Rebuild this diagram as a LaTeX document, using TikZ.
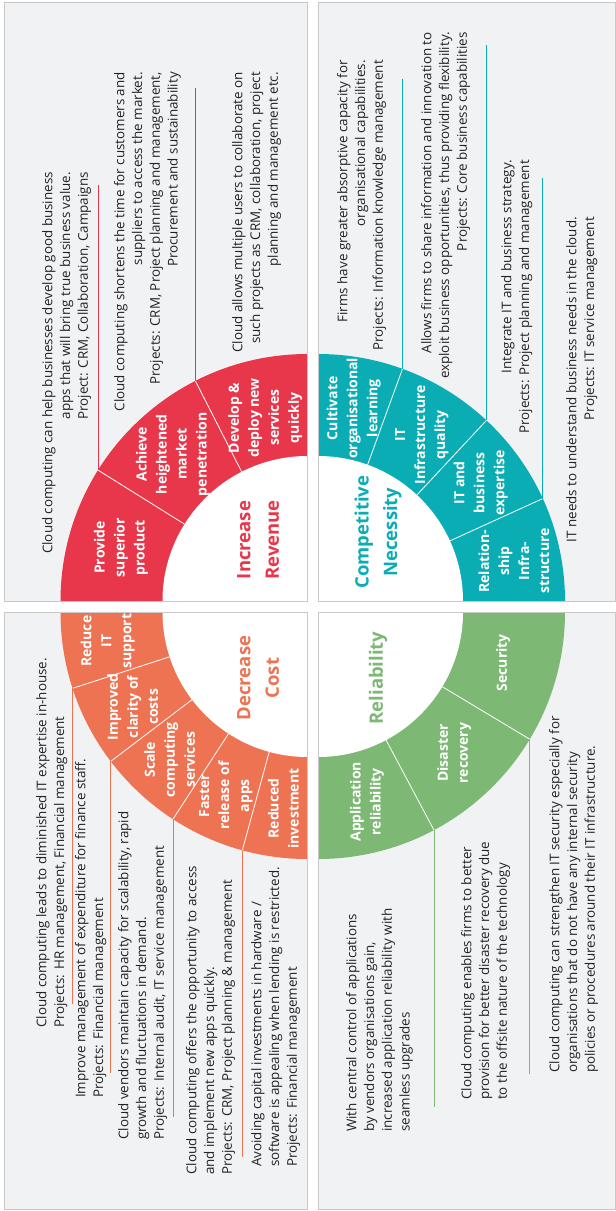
\documentclass[tikz,border=0pt]{standalone}
\usepackage{fontspec}
\setmainfont{Open Sans}
\usetikzlibrary{calc}
\definecolor{cred}{HTML}{E8374A}
\definecolor{corange}{HTML}{ED7352}
\definecolor{cteal}{HTML}{0BADB5}
\definecolor{cgreen}{HTML}{7DB874}
\definecolor{panelbg}{HTML}{F1F2F4}
\definecolor{panelbd}{HTML}{C8C8C8}
\definecolor{txt}{HTML}{222222}
\begin{document}
\begin{tikzpicture}[x=1pt,y=1pt,
  body/.style={rotate=90, inner sep=0pt, text=txt, font=\fontsize{13.4}{17.7}\selectfont},
  bodyr/.style={body, align=right, anchor=north east},
  bodyl/.style={body, align=left, anchor=north west},
  seg/.style={rotate=90, inner sep=0pt, text=white, align=center, font=\bfseries\fontsize{14}{20}\selectfont},
  head/.style={rotate=90, inner sep=0pt, align=center, font=\bfseries\fontsize{18.5}{28.5}\selectfont},
  panelfill/.style={fill=panelbg},
  panelline/.style={draw=panelbd, line width=1pt},
  divider/.style={draw=white, line width=0.8pt},
  sepline/.style={line width=0.9pt},
]
\useasboundingbox (0,0) rectangle (616,-1211);
\fill[white] (0,0) rectangle (616,-1211);

% centres
\coordinate (TLc) at (307.5,-601);
\coordinate (BLc) at (307.5,-612);
\coordinate (TRc) at (318,-601);
\coordinate (BRc) at (318,-612);

% panels
\path[panelfill] (4,-2) rectangle (307.5,-601);
\path[panelfill] (4,-612) rectangle (307.5,-1209);
\path[panelfill] (318,-2) rectangle (615,-601);
\path[panelfill] (318,-612) rectangle (615,-1209);

%================ TOP LEFT : Increase Revenue
\begin{scope}
\clip (4,-2) rectangle (307.5,-601);
\fill[cred] (TLc) -- ++(180:247) arc[start angle=180,end angle=90,radius=247] -- cycle;
\fill[white] (TLc) -- ++(180:145) arc[start angle=180,end angle=90,radius=145] -- cycle;
\draw[divider] ($(TLc)+(148:145)$) -- ($(TLc)+(148:247)$);
\draw[divider] ($(TLc)+(117:145)$) -- ($(TLc)+(117:247)$);
\end{scope}
\coordinate (tl1) at ($(TLc)+(148:247)$);
\coordinate (tl2) at ($(TLc)+(117:247)$);
\coordinate (tl3) at ($(TLc)+(90:247)$);
\coordinate (tl1e) at (0,-185);
\coordinate (tl2e) at (0,-88);
\draw[sepline,cred] (tl1) -- (tl1 |- tl1e);
\draw[sepline,cred] (tl2) -- (tl2 |- tl2e);
\draw[sepline,cred] (tl3) -- (tl3 |- tl2e);

\node[bodyr] (trev1) at (42,-172) {Cloud computing can help businesses develop good business\\apps that will bring true business value.\\Project: CRM, Collaboration, Campaigns};
\node[bodyr] (trev2) at (114,-72) {Cloud computing shortens the time for customers and\\suppliers to access the market.\\Projects: CRM, Project planning and management,\\Procurement and sustainability};
\node[bodyr] (trev3) at (232,-72) {Cloud allows multiple users to collaborate on\\such projects as CRM, collaboration, project\\planning and management etc.};

\node[seg] (srev1) at ($(TLc)+(164:194)$) {Provide\\superior\\product};
\node[seg] (srev2) at ($(TLc)+(132.5:199)$) {Achieve\\heightened\\market\\penetration};
\node[seg] (srev3) at ($(TLc)+(103:188)$) {Develop \&\\deploy new\\services\\quickly};
\node[head,text=cred] (hrev) at (258,-540) {Increase\\Revenue};

%================ BOTTOM LEFT : Decrease Cost
\begin{scope}
\clip (4,-612) rectangle (307.5,-1209);
\fill[corange] (BLc) -- ++(180:247) arc[start angle=180,end angle=270,radius=247] -- cycle;
\fill[white] (BLc) -- ++(180:145) arc[start angle=180,end angle=270,radius=145] -- cycle;
\foreach \a in {198,217.2,237,254.7}
  \draw[divider] ($(BLc)+(\a:145)$) -- ($(BLc)+(\a:247)$);
\node[seg] (scost1) at ($(BLc)+(188.3:202)$) {Reduce\\IT\\support};
\end{scope}
\coordinate (bl1) at ($(BLc)+(198:247)$);
\coordinate (bl2) at ($(BLc)+(217.2:247)$);
\coordinate (bl3) at ($(BLc)+(237:247)$);
\coordinate (bl4) at ($(BLc)+(254.7:247)$);
\coordinate (bl5) at ($(BLc)+(270:247)$);
\coordinate (bl1e) at (0,-1004);
\coordinate (bl2e) at (0,-1073);
\coordinate (bl3e) at (0,-1117);
\coordinate (bl4e) at (0,-1157);
\coordinate (bl5e) at (0,-1147);
\draw[sepline,corange] (bl1) -- (bl1 |- bl1e);
\draw[sepline,corange] (bl2) -- (bl2 |- bl2e);
\draw[sepline,corange] (bl3) -- (bl3 |- bl3e);
\draw[sepline,corange] (bl4) -- (bl4 |- bl4e);
\draw[sepline,corange] (bl5) -- (bl5 |- bl5e);

\node[bodyl] (tcost1) at (36,-1028) {Cloud computing leads to diminished IT expertise in-house.\\Projects: HR management, Financial management};
\node[bodyl] (tcost2) at (75,-1098) {Improve management of expenditure for finance staff.\\Projects: Financial management};
\node[bodyl] (tcost3) at (118,-1140) {Cloud vendors maintain capacity for scalability, rapid\\growth and fluctuations in demand.\\Projects: Internal audit, IT service management};
\node[bodyl] (tcost4) at (186,-1175) {Cloud computing offers the opportunity to access\\and implement new apps quickly.\\Projects: CRM, Project planning \& management};
\node[bodyl] (tcost5) at (251,-1167) {Avoiding capital investments in hardware /\\software is appealing when lending is restricted.\\Projects: Financial management};

\node[seg] (scost2) at ($(BLc)+(208.5:199)$) {Improved\\clarity of\\costs};
\node[seg] (scost3) at ($(BLc)+(227:202)$) {Scale\\computing\\services};
\node[seg] (scost4) at ($(BLc)+(246:201)$) {Faster\\release of\\apps};
\node[seg] (scost5) at ($(BLc)+(263:198)$) {Reduced\\investment};
\node[head,text=corange] (hcost) at (258,-678) {Decrease\\Cost};

%================ TOP RIGHT : Competitive Necessity
\begin{scope}
\clip (318,-2) rectangle (615,-601);
\fill[cteal] (TRc) -- ++(0:247) arc[start angle=0,end angle=90,radius=247] -- cycle;
\fill[white] (TRc) -- ++(0:145) arc[start angle=0,end angle=90,radius=145] -- cycle;
\foreach \a in {70,47,24.5}
  \draw[divider] ($(TRc)+(\a:145)$) -- ($(TRc)+(\a:247)$);
\end{scope}
\coordinate (tr1) at ($(TRc)+(70:247)$);
\coordinate (tr2) at ($(TRc)+(47:247)$);
\coordinate (tr3) at ($(TRc)+(24.5:247)$);
\coordinate (tr1e) at (0,-79);
\coordinate (tr2e) at (0,-45);
\coordinate (tr3e) at (0,-178);
\draw[sepline,cteal] (tr1) -- (tr1 |- tr1e);
\draw[sepline,cteal] (tr2) -- (tr2 |- tr2e);
\draw[sepline,cteal] (tr3) -- (tr3 |- tr3e);

\node[bodyr] (tcomp1) at (337,-60) {Firms have greater absorptive capacity for\\organisational capabilities.\\Projects: Information knowledge management};
\node[bodyr] (tcomp2) at (421,-32) {Allows firms to share information and innovation to\\exploit business opportunities, thus providing flexibility.\\Projects: Core business capabilities};
\node[bodyr] (tcomp3) at (501,-160) {Integrate IT and business strategy.\\Projects: Project planning and management};
\node[bodyr] (tcomp4) at (566,-217) {IT needs to understand business needs in the cloud.\\Projects: IT service management};

\node[seg] (scomp1) at ($(TRc)+(79.5:196)$) {Cultivate\\organisational\\learning};
\node[seg] (scomp2) at ($(TRc)+(58:196)$) {IT\\Infrastructure\\quality};
\node[seg] (scomp3) at ($(TRc)+(36:201)$) {IT and\\business\\expertise};
\node[seg] (scomp4) at ($(TRc)+(11.5:200)$) {Relation-\\ship\\Infra-\\structure};
\node[head,text=cteal] (hcomp) at (378,-532) {Competitive\\Necessity};

%================ BOTTOM RIGHT : Reliability
\begin{scope}
\clip (318,-612) rectangle (615,-1209);
\fill[cgreen] (BRc) -- ++(270:247) arc[start angle=270,end angle=360,radius=247] -- cycle;
\fill[white] (BRc) -- ++(270:145) arc[start angle=270,end angle=360,radius=145] -- cycle;
\foreach \a in {298,329}
  \draw[divider] ($(BRc)+(\a:145)$) -- ($(BRc)+(\a:247)$);
\end{scope}
\coordinate (br1) at ($(BRc)+(298:247)$);
\coordinate (br2) at ($(BRc)+(329:247)$);
\coordinate (br1e) at (0,-1107);
\coordinate (br2e) at (0,-1074);
\draw[sepline,cgreen] (br1) -- (br1 |- br1e);
\draw[sepline,cgreen] (br2) -- (br2 |- br2e);

\node[bodyl] (trel1) at (346,-1132) {With central control of applications\\by vendors organisations gain,\\increased application reliability with\\seamless upgrades};
\node[bodyl] (trel2) at (461,-1100) {Cloud computing enables firms to better\\provision for better disaster recovery due\\to the offsite nature of the technology};
\node[bodyl] (trel3) at (549,-1073) {Cloud computing can strengthen IT security especially for\\organisations that do not have any internal security\\policies or procedures around their IT infrastructure.};

\node[seg] (srel1) at ($(BRc)+(284.5:196)$) {Application\\reliability};
\node[seg] (srel2) at ($(BRc)+(314:196)$) {Disaster\\recovery};
\node[seg] (srel3) at ($(BRc)+(344.7:192)$) {Security};
\node[head,text=cgreen] (hrel) at (378,-678) {Reliability};

% panel borders
\draw[panelline] (4,-2) rectangle (307.5,-601);
\draw[panelline] (4,-612) rectangle (307.5,-1209);
\draw[panelline] (318,-2) rectangle (615,-601);
\draw[panelline] (318,-612) rectangle (615,-1209);
\end{tikzpicture}
\end{document}
